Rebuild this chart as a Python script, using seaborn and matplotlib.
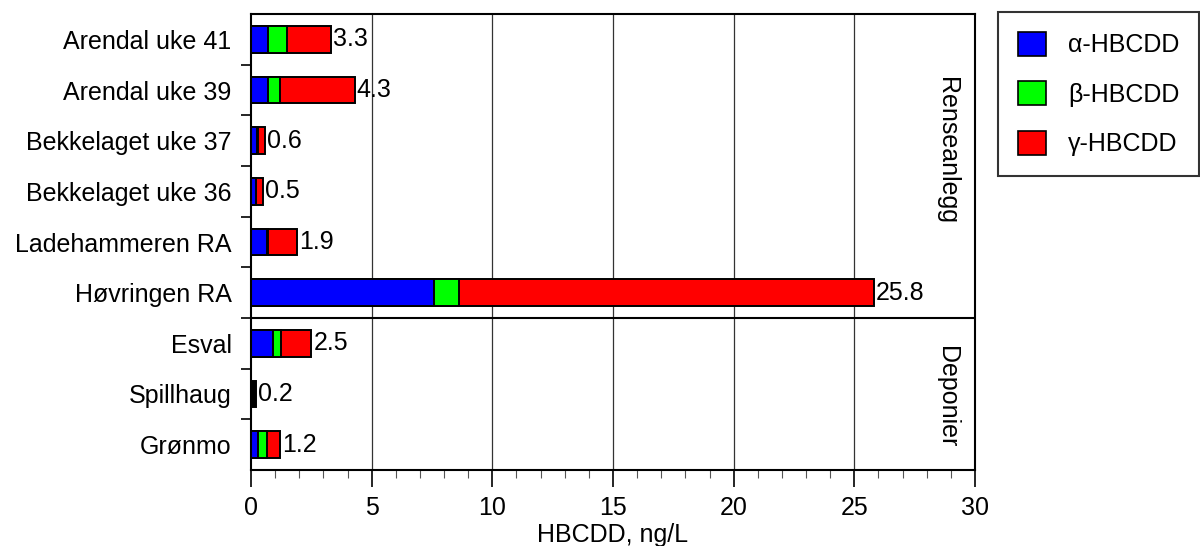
import matplotlib
matplotlib.use("Agg")
import matplotlib.pyplot as plt
import matplotlib.patches as mpatches
from matplotlib.ticker import MultipleLocator, FixedLocator
import numpy as np
import pandas as pd
import seaborn as sns

sites = ["Arendal uke 41", "Arendal uke 39", "Bekkelaget uke 37", "Bekkelaget uke 36",
         "Ladehammeren RA", "Høvringen RA", "Esval", "Spillhaug", "Grønmo"]
alpha = [0.7, 0.7, 0.25, 0.2, 0.65, 7.6, 0.9, 0.0, 0.3]
beta = [0.78, 0.5, 0.02, 0.0, 0.05, 1.0, 0.35, 0.0, 0.38]
gamma = [1.82, 3.1, 0.33, 0.3, 1.2, 17.2, 1.25, 0.0, 0.52]
total_only = [0.0, 0.0, 0.0, 0.0, 0.0, 0.0, 0.0, 0.2, 0.0]
totals = ["3.3", "4.3", "0.6", "0.5", "1.9", "25.8", "2.5", "0.2", "1.2"]
groups = ["Renseanlegg", "Deponier"]

sns.set_style("white")
plt.rcParams["font.family"] = ["Liberation Sans", "DejaVu Sans"]
plt.rcParams["text.color"] = "black"
plt.rcParams["xtick.color"] = "black"
plt.rcParams["ytick.color"] = "black"
plt.rcParams["axes.labelcolor"] = "black"
fs = 18

df = pd.DataFrame({"site": sites, "a": alpha, "b": beta, "g": gamma, "t": total_only})
df["ab"] = df["a"] + df["b"]
df["abg"] = df["ab"] + df["g"]

fig = plt.figure(figsize=(12, 5.46), dpi=100)
ax = fig.add_axes([251 / 1200, 1 - 470 / 546, (975 - 251) / 1200, (470 - 14) / 546])

for x in [5, 10, 15, 20, 25]:
    ax.axvline(x, color="#333333", lw=0.9, zorder=0)

kw = dict(y="site", orient="h", order=sites, width=0.52, edgecolor="black",
          linewidth=1.4, ax=ax, zorder=2)
sns.barplot(data=df, x="abg", color="#ff0000", saturation=1, **kw)
sns.barplot(data=df, x="ab", color="#00ff00", saturation=1, **kw)
sns.barplot(data=df, x="a", color="#0000ff", saturation=1, **kw)
sns.barplot(data=df, x="t", color="black", saturation=1, **kw)

ends = np.maximum(df["abg"].values, df["t"].values)
for i, (e, lab) in enumerate(zip(ends, totals)):
    ax.text(e + 0.08, i, lab, va="center", ha="left", fontsize=fs, zorder=3)

ax.axhline(5.5, color="black", lw=1.5, zorder=3)
ax.text(28.84, 2.2, groups[0], rotation=-90, va="center", ha="center", fontsize=fs)
ax.text(28.84, 7.05, groups[1], rotation=-90, va="center", ha="center", fontsize=fs)

ax.set_xlim(0, 30)
ax.set_ylim(8.5, -0.5)
ax.xaxis.set_major_locator(MultipleLocator(5))
ax.xaxis.set_minor_locator(MultipleLocator(1))
ax.yaxis.set_minor_locator(FixedLocator(np.arange(0.5, 8, 1)))
ax.tick_params(axis="x", which="major", direction="out", length=12, width=1.2,
               labelsize=fs, bottom=True, pad=7)
ax.tick_params(axis="x", which="minor", direction="out", length=6, width=0.8,
               bottom=True, color="#555555")
ax.tick_params(axis="y", which="major", length=0, labelsize=fs, pad=14)
ax.tick_params(axis="y", which="minor", direction="out", length=7, width=1.2, left=True)
ax.set_ylabel("")
ax.set_xlabel("HBCDD, ng/L", fontsize=fs, labelpad=2)
for s in ax.spines.values():
    s.set_color("black")
    s.set_linewidth(1.5)

handles = [mpatches.Patch(facecolor=c, edgecolor="black", lw=1.2, label=l)
           for c, l in [("#0000ff", "α-HBCDD"), ("#00ff00", "β-HBCDD"), ("#ff0000", "γ-HBCDD")]]
leg = fig.legend(handles=handles, loc="upper left", bbox_to_anchor=(998 / 1200, 1 - 12 / 546),
                 fontsize=fs, frameon=True, fancybox=False, edgecolor="black",
                 handlelength=1.1, handleheight=1.1, labelspacing=0.95, borderpad=0.8,
                 handletextpad=0.9, borderaxespad=0)
leg.get_frame().set_linewidth(1.5)

fig.savefig("out.png", dpi=100)
